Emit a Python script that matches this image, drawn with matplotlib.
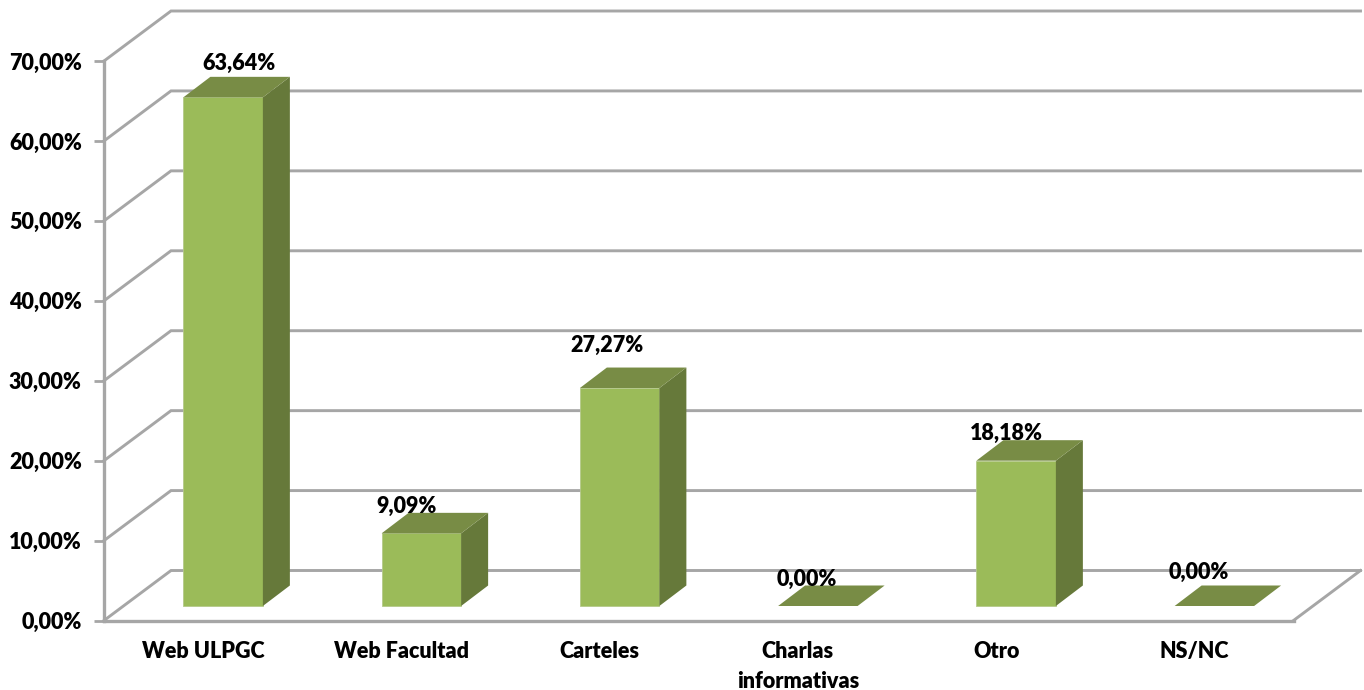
import matplotlib
matplotlib.use('Agg')
import matplotlib.pyplot as plt
import numpy as np

plt.rcParams['font.family'] = ['Lato', 'DejaVu Sans']

categories = ['Web ULPGC', 'Web Facultad', 'Carteles', 'Charlas\ninformativas', 'Otro', 'NS/NC']
values = [63.64, 9.09, 27.27, 0.0, 18.18, 0.0]
value_labels = ['63,64%', '9,09%', '27,27%', '0,00%', '18,18%', '0,00%']
yticks = [0, 10, 20, 30, 40, 50, 60, 70]
ytick_labels = ['0,00%', '10,00%', '20,00%', '30,00%', '40,00%', '50,00%', '60,00%', '70,00%']

W, H = 1364, 690
grey = '#A6A6A6'
c_front = '#9BBB59'
c_top = '#788C45'
c_side = '#66793A'
weight = 'heavy'
fsize = 15.5

fig = plt.figure(figsize=(W / 100, H / 100), dpi=100)
# front plane of the fake 3d box, in pixels
left, right, y0, y70 = 104, 1293.5, 620.5, 61
ax = fig.add_axes([left / W, 1 - y0 / H, (right - left) / W, (y0 - y70) / H])
ax.set_xlim(-0.5, 5.5)
ax.set_ylim(0, 70)
ax.patch.set_visible(False)

px = 6.0 / (right - left)     # data units per pixel, x
py = 70.0 / (y0 - y70)        # data units per pixel, y

# box depth
dx = 67 * px
dy = 50 * py

# back wall lines and left diagonals
for v in yticks:
    ax.plot([-0.5, -0.5 + dx, 5.5 + dx], [v, v + dy, v + dy], color=grey, lw=2.1,
            clip_on=False, zorder=1, solid_joinstyle='miter')
ax.plot([5.5, 5.5 + dx], [0, dy], color=grey, lw=2.1, clip_on=False, zorder=1)

# bars
bar_w = 79.5 * px
shift_x = 20 * px
base = 14.5 * py
depth_x = 27 * px
depth_y = 20.5 * py
for i, v in enumerate(values):
    xl = i + shift_x - bar_w / 2
    xr = xl + bar_w
    top = base + v
    if v > 0:
        ax.bar(i + shift_x, v, bar_w, bottom=base, color=c_front, edgecolor='#B5C98A',
               linewidth=0.6, zorder=3, clip_on=False)
        ax.fill([xr, xr + depth_x, xr + depth_x, xr],
                [base, base + depth_y, top + depth_y, top],
                color=c_side, lw=0, zorder=3, clip_on=False)
    ax.fill([xl, xr, xr + depth_x, xl + depth_x],
            [top, top, top + depth_y, top + depth_y],
            color=c_top, lw=0, zorder=3, clip_on=False)

# data labels, nudged by hand like the original
label_dx = [16, -15, -13, -11, -10, -16]
label_dy = [34, 27, 43, 27, 27, 34]
for i, v in enumerate(values):
    ax.text(i + shift_x + label_dx[i] * px, base + v + label_dy[i] * py, value_labels[i],
            ha='center', va='center', fontsize=fsize, fontweight=weight, color='black',
            zorder=5, clip_on=False)

ax.set_xticks(range(len(categories)))
ax.set_xticklabels(categories, fontsize=fsize, fontweight=weight, linespacing=1.5)
ax.set_yticks(yticks)
ax.set_yticklabels(ytick_labels, fontsize=fsize, fontweight=weight)
ax.tick_params(axis='x', length=0, pad=15)
ax.tick_params(axis='y', length=7, width=2, color=grey, pad=9)

for s in ['top', 'right']:
    ax.spines[s].set_visible(False)
for s in ['left', 'bottom']:
    ax.spines[s].set_color(grey)
    ax.spines[s].set_linewidth(2.4)
    ax.spines[s].set_zorder(2)

fig.savefig('out.png', dpi=100)
